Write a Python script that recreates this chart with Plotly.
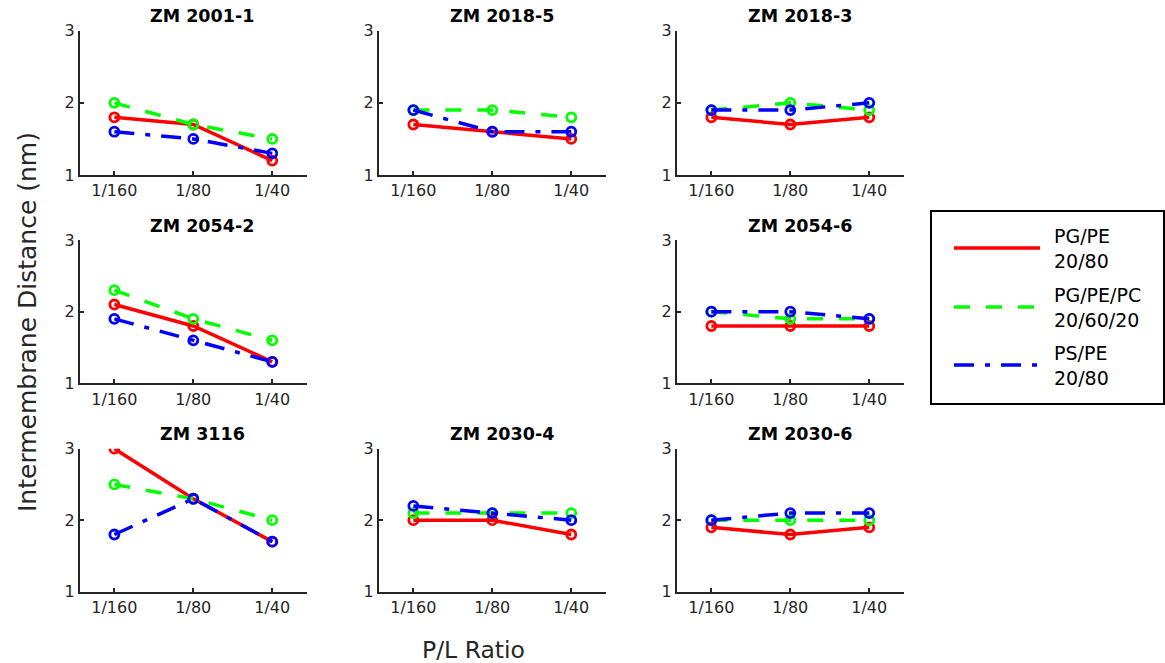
import plotly.graph_objects as go

W, H = 1165, 663

ratios = ["1/160", "1/80", "1/40"]
titles = ["ZM 2001-1", "ZM 2018-5", "ZM 2018-3", "ZM 2054-2",
          "ZM 2054-6", "ZM 3116", "ZM 2030-4", "ZM 2030-6"]

pg_pe = [[1.8, 1.7, 1.2], [1.7, 1.6, 1.5], [1.8, 1.7, 1.8], [2.1, 1.8, 1.3],
         [1.8, 1.8, 1.8], [3.0, 2.3, 1.7], [2.0, 2.0, 1.8], [1.9, 1.8, 1.9]]
pg_pe_pc = [[2.0, 1.7, 1.5], [1.9, 1.9, 1.8], [1.9, 2.0, 1.9], [2.3, 1.9, 1.6],
            [2.0, 1.9, 1.9], [2.5, 2.3, 2.0], [2.1, 2.1, 2.1], [2.0, 2.0, 2.0]]
ps_pe = [[1.6, 1.5, 1.3], [1.9, 1.6, 1.6], [1.9, 1.9, 2.0], [1.9, 1.6, 1.3],
         [2.0, 2.0, 1.9], [1.8, 2.3, 1.7], [2.2, 2.1, 2.0], [2.0, 2.1, 2.1]]

series_labels = ["PG/PE<br>20/80", "PG/PE/PC<br>20/60/20", "PS/PE<br>20/80"]
series_data = [pg_pe, pg_pe_pc, ps_pe]
colors = ["#ff0000", "#00ff00", "#0000ff"]
dashes = ["solid", "16px,16px", "20px,11px,5px,11px"]

# layout (pixels)
grid = [(0, 0), (0, 1), (0, 2), (1, 0), (1, 2), (2, 0), (2, 1), (2, 2)]
col_x = [(80, 307), (379, 606), (677, 904)]
row_y = [(30.7, 175), (240, 383.3), (448.7, 591.7)]

AX = "#262626"
FONT = "DejaVu Sans"

fig = go.Figure()
layout = dict(
    width=W, height=H, margin=dict(l=0, r=0, t=0, b=0, pad=0, autoexpand=False),
    autosize=False,
    paper_bgcolor="white", plot_bgcolor="white", showlegend=False,
    font=dict(family=FONT, color=AX),
)
annotations = []
shapes = []

for i, (r, c) in enumerate(grid):
    n = i + 1
    xa, ya = f"x{n}", f"y{n}"
    x0, x1 = col_x[c]
    yt, yb = row_y[r]
    for s in range(3):
        fig.add_trace(go.Scatter(
            x=ratios, y=series_data[s][i], xaxis=xa, yaxis=ya,
            mode="lines+markers", showlegend=False,
            line=dict(color=colors[s], width=3.5, dash=dashes[s]),
            marker=dict(symbol="circle-open", size=9, color=colors[s],
                        line=dict(width=2.8, color=colors[s])),
            name=series_labels[s].replace("<br>", " "),
        ))
    common = dict(showline=True, linecolor=AX, linewidth=2, ticks="inside",
                  ticklen=4, tickwidth=1.5, tickcolor=AX, showgrid=False,
                  zeroline=False, tickfont=dict(size=16, color=AX, family=FONT),
                  fixedrange=True, automargin=False)
    layout[f"xaxis{n}"] = dict(domain=[x0 / W, x1 / W], anchor=ya,
                               type="category", range=[-0.435, 2.44], **common)
    layout[f"yaxis{n}"] = dict(domain=[1 - yb / H, 1 - yt / H], anchor=xa,
                               range=[1, 3], tickvals=[1, 2, 3], **common)
    annotations.append(dict(
        text=f"<b>{titles[i]}</b>", xref="paper", yref="paper",
        x=((x0 + x1) / 2 + 9) / W, y=1 - (yt - 14.5) / H,
        xanchor="center", yanchor="middle", showarrow=False,
        font=dict(size=17.5, color="black", family=FONT)))

# axis titles
annotations.append(dict(text="Intermembrane Distance (nm)", xref="paper", yref="paper",
                        x=27 / W, y=1 - 322 / H, textangle=-90, showarrow=False,
                        xanchor="center", yanchor="middle",
                        font=dict(size=25, color=AX, family=FONT)))
annotations.append(dict(text="P/L Ratio", xref="paper", yref="paper",
                        x=473 / W, y=1 - 650 / H, showarrow=False,
                        xanchor="center", yanchor="middle",
                        font=dict(size=23.5, color=AX, family=FONT)))

# legend box (drawn manually for MATLAB-like long samples)
shapes.append(dict(type="rect", xref="paper", yref="paper",
                   x0=931 / W, x1=1164 / W, y0=1 - 404 / H, y1=1 - 211 / H,
                   line=dict(color="black", width=2), fillcolor="white", layer="below"))
leg_y = [248, 307, 365]
for s in range(3):
    shapes.append(dict(type="line", xref="paper", yref="paper",
                       x0=954 / W, x1=1040 / W, y0=1 - leg_y[s] / H, y1=1 - leg_y[s] / H,
                       line=dict(color=colors[s], width=3.5, dash=dashes[s])))
    annotations.append(dict(text=series_labels[s], xref="paper", yref="paper",
                            x=1052 / W, y=1 - leg_y[s] / H, xanchor="left",
                            yanchor="middle", align="left", showarrow=False,
                            font=dict(size=19, color="black", family=FONT)))

layout["annotations"] = annotations
layout["shapes"] = shapes
fig.update_layout(**layout)
fig.write_html("out.html")
